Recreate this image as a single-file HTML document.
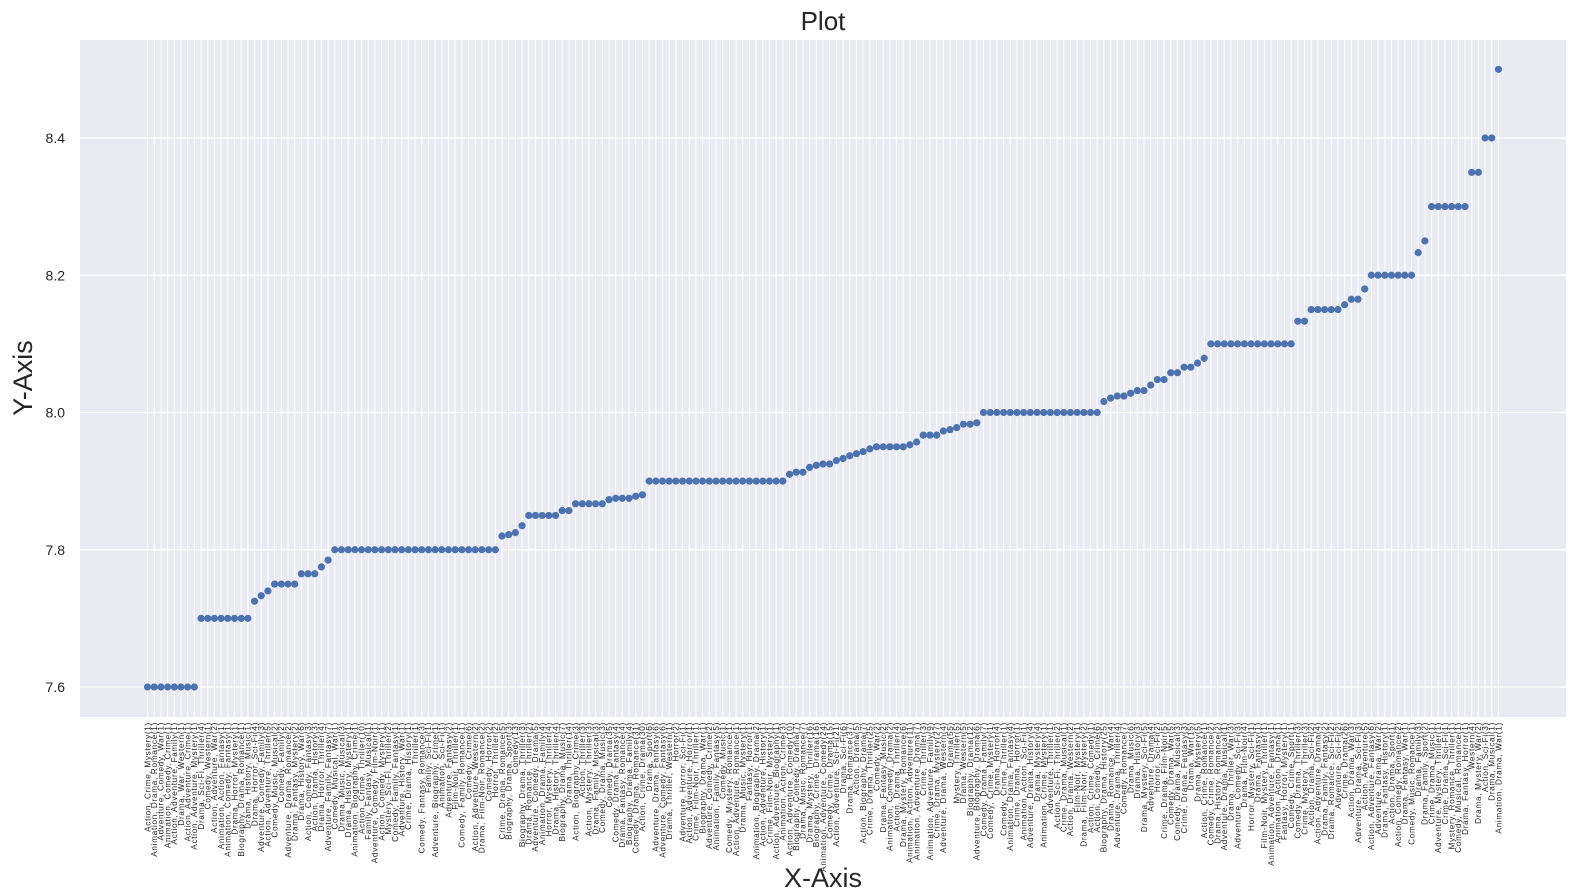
<!DOCTYPE html>
<html>
<head>
<meta charset="utf-8">
<style>
  html,body{margin:0;padding:0;background:#ffffff;}
  svg{display:block;font-family:"Liberation Sans",Arial,sans-serif;}
</style>
</head>
<body>
<svg id="chart" width="1591" height="893" viewBox="0 0 1591 893" xmlns="http://www.w3.org/2000/svg">
  <rect x="80" y="40" width="1486" height="677" fill="#EAEAF2"/>
  <g id="grid"></g>
  <g id="points"></g>
  <g id="yticks"></g>
  <g id="xticks"></g>
  <text x="823" y="30" text-anchor="middle" font-size="26" fill="#262626">Plot</text>
  <text x="823" y="887" text-anchor="middle" font-size="27" fill="#262626">X-Axis</text>
  <text x="32" y="378" text-anchor="middle" font-size="27" fill="#262626" transform="rotate(-90 32 378)">Y-Axis</text>
</svg>
<script>
const categories = [
"Action, Crime, Mystery(1)","Animation, Drama, Romance(1)","Adventure, Comedy, War(1)","Animation, Comedy, Crime(1)","Action, Adventure, Family(1)","Drama, War, Western(1)","Action, Adventure, Crime(1)","Action, Adventure, Mystery(1)","Drama, Sci-Fi, Thriller(4)","Comedy, Western(1)",
"Action, Adventure, War(2)","Animation, Action, Fantasy(1)","Animation, Comedy, Fantasy(1)","Drama, Horror, Mystery(1)","Biography, Drama, Romance(1)","Drama, History, Music(1)","Drama, Horror, Sci-Fi(4)","Adventure, Comedy, Family(3)","Action, Adventure, Thriller(5)","Comedy, Music, Musical(2)",
"Comedy, Family(2)","Adventure, Drama, Romance(2)","Drama, Fantasy, Mystery(2)","Drama, History, War(6)","Action, Comedy, Fantasy(3)","Action, Drama, History(3)","Drama, Horror, Thriller(4)","Adventure, Family, Fantasy(7)","Comedy, Musical, War(1)","Drama, Music, Musical(3)",
"Drama, History, Mystery(1)","Animation, Biography, Crime(1)","Action, Crime, Thriller(10)","Family, Fantasy, Musical(1)","Adventure, Comedy, Film-Noir(1)","Action, Comedy, Mystery(1)","Mystery, Sci-Fi, Thriller(2)","Comedy, Family, Fantasy(1)","Adventure, History, War(1)","Crime, Drama, History(1)",
"Thriller(1)","Comedy, Fantasy, Romance(3)","Family, Sci-Fi(1)","Adventure, Biography, Crime(1)","Animation, Sci-Fi(1)","Adventure, Fantasy(2)","Film-Noir, Thriller(1)","Comedy, Family, Romance(1)","Comedy, Crime(6)","Action, Adventure, Western(2)",
"Drama, Film-Noir, Romance(2)","Comedy, Horror(2)","Horror, Thriller(2)","Crime, Drama, Romance(5)","Biography, Drama, Sport(3)","Comedy(13)","Biography, Drama, Thriller(3)","Drama, Romance, Thriller(2)","Adventure, Comedy, Drama(5)","Animation, Drama, Family(4)",
"Horror, Mystery, Thriller(4)","Drama, History, Thriller(4)","Biography, Drama, Music(7)","Drama, Thriller(14)","Action, Biography, Crime(3)","Action, Thriller(3)","Action, Mystery, Thriller(3)","Drama, Family, Musical(3)","Comedy, Drama, Music(3)","Comedy, Drama(35)",
"Comedy, Drama, Fantasy(4)","Drama, Fantasy, Romance(4)","Biography, Drama, Family(4)","Comedy, Drama, Romance(31)","Action, Crime, Drama(30)","Drama, Sport(6)","Adventure, Drama, Fantasy(6)","Adventure, Comedy, Fantasy(6)","Drama, Thriller, Western(1)","Horror(2)",
"Adventure, Horror, Sci-Fi(1)","Action, Adventure, Horror(1)","Crime, Film-Noir, Thriller(1)","Biography, Drama, War(1)","Adventure, Comedy, Crime(2)","Animation, Family, Fantasy(5)","Comedy, Music(1)","Comedy, Mystery, Romance(1)","Action, Adventure, Romance(1)","Drama, Music, Mystery(1)",
"Fantasy, Horror(1)","Animation, Biography, Drama(2)","Action, Adventure, History(1)","Crime, Film-Noir, Mystery(1)","Action, Adventure, Biography(1)","Animation, Action, Crime(3)","Action, Adventure, Comedy(10)","Biography, Comedy, Drama(7)","Drama, Music, Romance(7)","Drama, Mystery, Thriller(16)",
"Biography, Crime, Drama(16)","Animation, Adventure, Comedy(24)","Comedy, Crime, Drama(15)","Action, Adventure, Sci-Fi(21)","Drama, Sci-Fi(6)","Drama, Romance(37)","Action, Drama(5)","Action, Biography, Drama(7)","Crime, Drama, Thriller(25)","Comedy, War(2)",
"Drama, Fantasy, Music(2)","Animation, Comedy, Drama(2)","Action, Drama, Thriller(4)","Drama, Mystery, Romance(6)","Animation, Action, Adventure(11)","Animation, Adventure, Drama(7)","Crime, Thriller(3)","Animation, Adventure, Family(9)","Crime, Drama, Mystery(27)","Adventure, Drama, Western(4)",
"Drama(55)","Mystery, Thriller(5)","Drama, Western(5)","Biography, Drama(12)","Adventure, Biography, Drama(6)","Comedy, Drama, Family(7)","Comedy, Crime, Mystery(1)","Drama, Horror(4)","Comedy, Crime, Thriller(1)","Animation, Drama, Fantasy(4)",
"Crime, Drama, Horror(1)","Animation, Action, Sci-Fi(1)","Adventure, Drama, History(4)","Drama, Mystery(4)","Animation, Crime, Mystery(1)","Adventure, Thriller(1)","Action, Sci-Fi, Thriller(2)","Crime, Drama, Musical(1)","Action, Drama, Western(2)","Film-Noir, Mystery(1)",
"Drama, Film-Noir, Mystery(2)","Action, Crime, Comedy(1)","Action, Comedy, Crime(6)","Biography, Drama, History(25)","Drama, Romance, War(4)","Adventure, Drama, Thriller(4)","Comedy, Romance(7)","Drama, Music(6)","Drama, History(3)","Drama, Mystery, Sci-Fi(5)",
"Adventure, Drama(4)","Horror, Sci-Fi(2)","Crime, Drama, Film-Noir(5)","Comedy, Drama, War(5)","Comedy, Drama, Musical(3)","Crime, Drama, Fantasy(3)","Drama, War(15)","Drama, Mystery(5)","Action, Crime, Romance(1)","Comedy, Crime, Romance(2)",
"Drama, History, Romance(2)","Adventure, Drama, Musical(1)","Drama, Thriller, War(3)","Adventure, Comedy, Sci-Fi(3)","Drama, Film-Noir(4)","Horror, Mystery, Sci-Fi(1)","Drama, Fantasy(1)","Film-Noir, Mystery, Thriller(1)","Animation, Adventure, Fantasy(1)","Animation, Action, Drama(1)",
"Fantasy, Horror, Mystery(1)","Comedy, Crime, Sport(1)","Comedy, Drama, Thriller(3)","Crime, Mystery, Thriller(3)","Action, Drama, Sci-Fi(2)","Action, Adventure, Drama(4)","Drama, Family, Fantasy(2)","Drama, Romance, Sci-Fi(2)","Adventure, Sci-Fi(2)","Crime, Drama(26)",
"Action, Drama, War(3)","Adventure, Drama, Sci-Fi(3)","Action, Adventure(5)","Action, Adventure, Fantasy(6)","Adventure, Drama, War(2)","Drama, Fantasy, History(1)","Action, Drama, Sport(1)","Action, Comedy, Romance(2)","Drama, Fantasy, War(1)","Comedy, Music, Romance(1)",
"Drama, Family(3)","Drama, Family, Sport(2)","Crime, Drama, Music(1)","Adventure, Mystery, Thriller(1)","Crime, Drama, Sci-Fi(1)","Mystery, Romance, Thriller(1)","Comedy, Musical, Romance(1)","Drama, Fantasy, Horror(1)","Western(4)","Drama, Mystery, War(2)",
"Action, Sci-Fi(3)","Drama, Musical(1)","Animation, Drama, War(1)"
];
const ratings = [
7.6,7.6,7.6,7.6,7.6,7.6,7.6,7.6,
7.7,7.7,7.7,7.7,7.7,7.7,7.7,7.7,
7.725,7.733,7.74,
7.75,7.75,7.75,7.75,
7.765,7.765,7.765,
7.775,7.785,
7.8,7.8,7.8,7.8,7.8,7.8,7.8,7.8,7.8,7.8,7.8,7.8,7.8,7.8,7.8,7.8,7.8,7.8,7.8,7.8,7.8,7.8,7.8,7.8,7.8,
7.82,7.822,7.825,7.835,
7.85,7.85,7.85,7.85,7.85,
7.857,7.857,
7.867,7.867,7.867,7.867,7.867,
7.873,7.875,7.875,7.875,7.878,7.88,
7.9,7.9,7.9,7.9,7.9,7.9,7.9,7.9,7.9,7.9,7.9,7.9,7.9,7.9,7.9,7.9,7.9,7.9,7.9,7.9,7.9,
7.91,7.913,7.913,7.92,7.923,7.925,7.925,7.93,7.933,7.937,7.94,7.943,7.947,
7.95,7.95,7.95,7.95,7.95,
7.953,7.957,7.967,7.967,7.967,7.973,7.975,7.978,7.983,7.983,7.985,
8.0,8.0,8.0,8.0,8.0,8.0,8.0,8.0,8.0,8.0,8.0,8.0,8.0,8.0,8.0,8.0,8.0,8.0,
8.016,8.021,8.024,8.024,8.028,8.032,8.032,8.04,8.048,8.048,8.058,8.058,8.066,8.066,8.072,8.079,
8.1,8.1,8.1,8.1,8.1,8.1,8.1,8.1,8.1,8.1,8.1,8.1,8.1,
8.133,8.133,
8.15,8.15,8.15,8.15,8.15,
8.157,8.165,8.165,8.18,
8.2,8.2,8.2,8.2,8.2,8.2,8.2,
8.233,8.25,
8.3,8.3,8.3,8.3,8.3,8.3,
8.35,8.35,
8.4,8.4,
8.5
];
const yTicks = [7.6, 7.8, 8.0, 8.2, 8.4];
const yTickLabels = ["7.6", "7.8", "8.0", "8.2", "8.4"];

const NS = "http://www.w3.org/2000/svg";
const plotL = 80, plotR = 1566, plotT = 40, plotB = 717;
const n = categories.length;
const xPad = (n - 1) * 0.05;
function xScale(i) { return plotL + (i + xPad) / ((n - 1) + 2 * xPad) * (plotR - plotL); }
const yMin = 7.6, yMax = 8.4;
function yScale(v) { return 687 - (v - yMin) / (yMax - yMin) * (687 - 138); }

const grid = document.getElementById('grid');
const pts = document.getElementById('points');
const yt = document.getElementById('yticks');
const xt = document.getElementById('xticks');

yTicks.forEach((t, k) => {
  const y = yScale(t);
  const ln = document.createElementNS(NS, 'line');
  ln.setAttribute('x1', plotL); ln.setAttribute('x2', plotR);
  ln.setAttribute('y1', y); ln.setAttribute('y2', y);
  ln.setAttribute('stroke', '#ffffff'); ln.setAttribute('stroke-width', '1.2');
  
  
  grid.appendChild(ln);
  const tx = document.createElementNS(NS, 'text');
  tx.setAttribute('x', 65); tx.setAttribute('y', y + 5);
  tx.setAttribute('text-anchor', 'end');
  tx.setAttribute('font-size', '14');
  tx.setAttribute('fill', '#262626');
  tx.textContent = yTickLabels[k];
  
  
  yt.appendChild(tx);
});

categories.forEach((c, i) => {
  const x = xScale(i);
  const ln = document.createElementNS(NS, 'line');
  ln.setAttribute('x1', x); ln.setAttribute('x2', x);
  ln.setAttribute('y1', plotT); ln.setAttribute('y2', plotB);
  ln.setAttribute('stroke', '#ffffff'); ln.setAttribute('stroke-width', '1');
  
  
  grid.appendChild(ln);

  const tx = document.createElementNS(NS, 'text');
  const ty = 722;
  tx.setAttribute('x', x + 2.8); tx.setAttribute('y', ty);
  tx.setAttribute('text-anchor', 'end');
  tx.setAttribute('font-size', '8.2');
  tx.setAttribute('letter-spacing', '0.7');
  tx.setAttribute('fill', '#262626');
  tx.setAttribute('transform', 'rotate(-90 ' + (x + 2.8) + ' ' + ty + ')');
  tx.textContent = c;
  
  
  xt.appendChild(tx);
});

ratings.forEach((v, i) => {
  const c = document.createElementNS(NS, 'circle');
  c.setAttribute('cx', xScale(i));
  c.setAttribute('cy', yScale(v));
  c.setAttribute('r', 3.6);
  c.setAttribute('fill', '#4C72B0');
  
  
  pts.appendChild(c);
});
</script>
</body>
</html>
